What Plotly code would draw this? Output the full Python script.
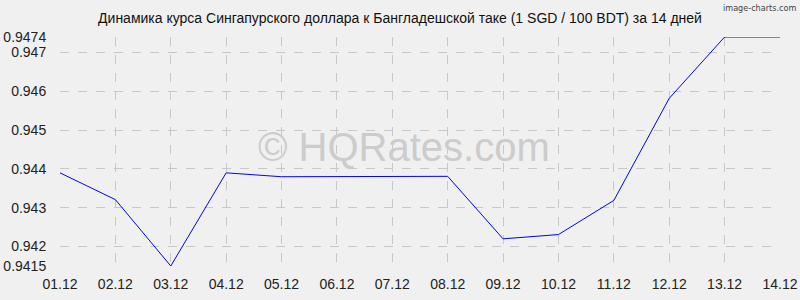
import plotly.graph_objects as go

dates = ["01.12", "02.12", "03.12", "04.12", "05.12", "06.12", "07.12",
         "08.12", "09.12", "10.12", "11.12", "12.12", "13.12", "14.12"]
rates = [0.94390, 0.94321, 0.94150, 0.94390, 0.94380, 0.94380, 0.94380,
         0.94381, 0.94220, 0.94231, 0.94319, 0.94582, 0.94740, 0.94740]
y_ticks = [0.9415, 0.942, 0.943, 0.944, 0.945, 0.946, 0.947, 0.9474]
y_labels = ["0.9415", "0.942", "0.943", "0.944", "0.945", "0.946", "0.947", "0.9474"]
title = "Динамика курса Сингапурского доллара к Бангладешской таке (1 SGD / 100 BDT) за 14 дней"

x = list(range(len(dates)))

fig = go.Figure()
fig.add_trace(go.Scatter(x=x, y=rates, mode="lines",
                         line=dict(color="#0000ff", width=1), hoverinfo="skip"))

fig.update_layout(
    width=800, height=300,
    margin=dict(l=60, r=20, t=37, b=34, autoexpand=False),
    paper_bgcolor="#f0f0f0", plot_bgcolor="#f0f0f0",
    showlegend=False,
    font=dict(family="Liberation Sans, Arial, sans-serif", size=14, color="#222222"),
    title=dict(text=title, x=0.5, xanchor="center", y=0.94, yanchor="middle",
               font=dict(size=14, color="#111111"), automargin=False),
    xaxis=dict(range=[0, len(dates) - 1], tickvals=x, ticktext=dates,
               showgrid=True, gridcolor="#c8c8c8", griddash="dash", gridwidth=1,
               zeroline=False, showline=False, automargin=False,
               ticks="outside", ticklen=5, tickcolor="rgba(0,0,0,0)",
               tickfont=dict(size=14, color="#222222")),
    yaxis=dict(range=[0.9415, 0.9474], tickvals=y_ticks, ticktext=y_labels,
               showgrid=True, gridcolor="#c8c8c8", griddash="dash", gridwidth=1,
               zeroline=False, showline=False, automargin=False,
               ticks="outside", ticklen=10, tickcolor="rgba(0,0,0,0)",
               tickfont=dict(size=14, color="#222222")),
    annotations=[
        dict(text="© HQRates.com", xref="paper", yref="paper", x=0.478, y=0.52,
             showarrow=False, font=dict(size=40, color="#cccccc",
                                         family="Liberation Sans, Arial, sans-serif")),
        dict(text="image-charts.com", xref="paper", yref="paper", x=1.025, y=1.127,
             xanchor="right", yanchor="middle", showarrow=False,
             font=dict(size=9, color="#444444", family="DejaVu Sans Condensed, DejaVu Sans")),
    ],
)

fig.write_html("out.html")
